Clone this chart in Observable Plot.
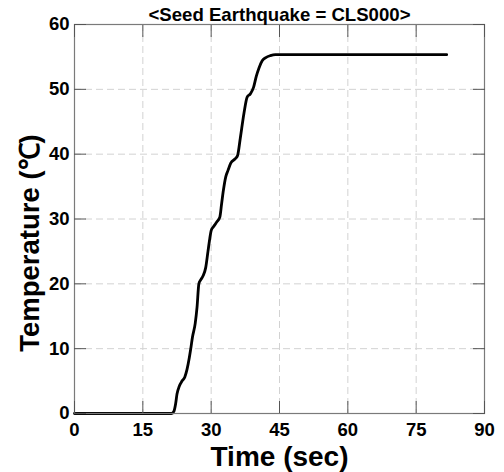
<!DOCTYPE html>
<html><head><meta charset="utf-8">
<script src="https://cdn.jsdelivr.net/npm/d3@7"></script>
<script src="https://cdn.jsdelivr.net/npm/@observablehq/plot@0.6"></script>
<style>body{margin:0;background:#fff}</style>
</head><body><div id="chart"></div>
<script>
const time = [0, 21.3, 21.8, 22.2, 22.5, 23.0, 23.6, 24.2, 24.7, 25.2, 25.5, 25.9, 26.5, 26.9, 27.3, 27.7, 28.2, 28.8, 29.3, 29.7, 30.0, 30.5, 31.3, 31.9, 32.3, 32.7, 33.2, 33.7, 34.3, 35.3, 35.8, 36.4, 37.2, 37.9, 38.6, 39.3, 39.9, 40.5, 41.2, 42.0, 43.0, 44.1, 81.7];
const temperature = [0, 0, 0.3, 1.5, 3.0, 4.2, 5.0, 5.6, 6.8, 8.6, 9.9, 11.8, 13.9, 16.4, 20.0, 20.6, 21.2, 22.5, 25.0, 27.0, 28.2, 28.8, 29.6, 30.3, 32.4, 34.5, 36.5, 37.5, 38.6, 39.3, 39.8, 42.5, 46.3, 48.8, 49.3, 50.3, 52.0, 53.3, 54.4, 54.9, 55.2, 55.35, 55.35];
const xTicks = [0, 15, 30, 45, 60, 75, 90];
const yTicks = [0, 10, 20, 30, 40, 50, 60];
const titleText = ["<Seed Earthquake = CLS000>"];
const xLabel = ["Time (sec)"];
const yLabel = ["Temperature (\u2103)"];

const data = time.map((t, i) => ({time: t, temp: temperature[i]}));
const ff = "'Liberation Sans', Arial, sans-serif";
const noText = () => "";

const chart = Plot.plot({
  width: 504, height: 472,
  marginLeft: 74, marginRight: 20, marginTop: 24, marginBottom: 59,
  style: {fontFamily: ff, fontWeight: "bold", background: "#fff", color: "#000"},
  x: {domain: [0, 90]},
  y: {domain: [0, 60]},
  marks: [
    Plot.gridX(xTicks, {stroke: "#d2d2d2", strokeOpacity: 1, strokeDasharray: "7,4"}),
    Plot.gridY(yTicks, {stroke: "#d2d2d2", strokeOpacity: 1, strokeDasharray: "7,4"}),
    Plot.line(data, {x: "time", y: "temp", stroke: "#000", strokeWidth: 2.8, curve: "monotone-x"}),
    Plot.frame({stroke: "#7a7a7a", strokeWidth: 1.2}),
    Plot.axisX(xTicks, {anchor: "bottom", tickSize: -12, tickPadding: 21, stroke: "#555", fontSize: 18.5, fontWeight: "bold", fill: "#000", label: null}),
    Plot.axisX(xTicks, {anchor: "top", tickSize: -12, stroke: "#555", tickFormat: noText, label: null}),
    Plot.axisY(yTicks, {anchor: "left", tickSize: -12, tickPadding: 17, stroke: "#555", fontSize: 18.5, fontWeight: "bold", fill: "#000", label: null}),
    Plot.axisY(yTicks, {anchor: "right", tickSize: -12, stroke: "#555", tickFormat: noText, label: null}),
    Plot.text(titleText, {text: d => d, frameAnchor: "top", dy: -3.5, lineAnchor: "bottom", textAnchor: "middle", fontSize: 18.6, fontWeight: "bold", fill: "#000"}),
    Plot.text(xLabel, {text: d => d, frameAnchor: "bottom", dy: 52, lineAnchor: "bottom", textAnchor: "middle", fontSize: 28, fontWeight: "bold", fill: "#000"}),
    Plot.text(yLabel, {text: d => d, frameAnchor: "left", dx: -36, dy: 24, rotate: -90, lineAnchor: "bottom", textAnchor: "middle", fontSize: 27.5, fontWeight: "bold", fill: "#000"})
  ]
});
document.getElementById("chart").appendChild(chart);
</script>
</body></html>
